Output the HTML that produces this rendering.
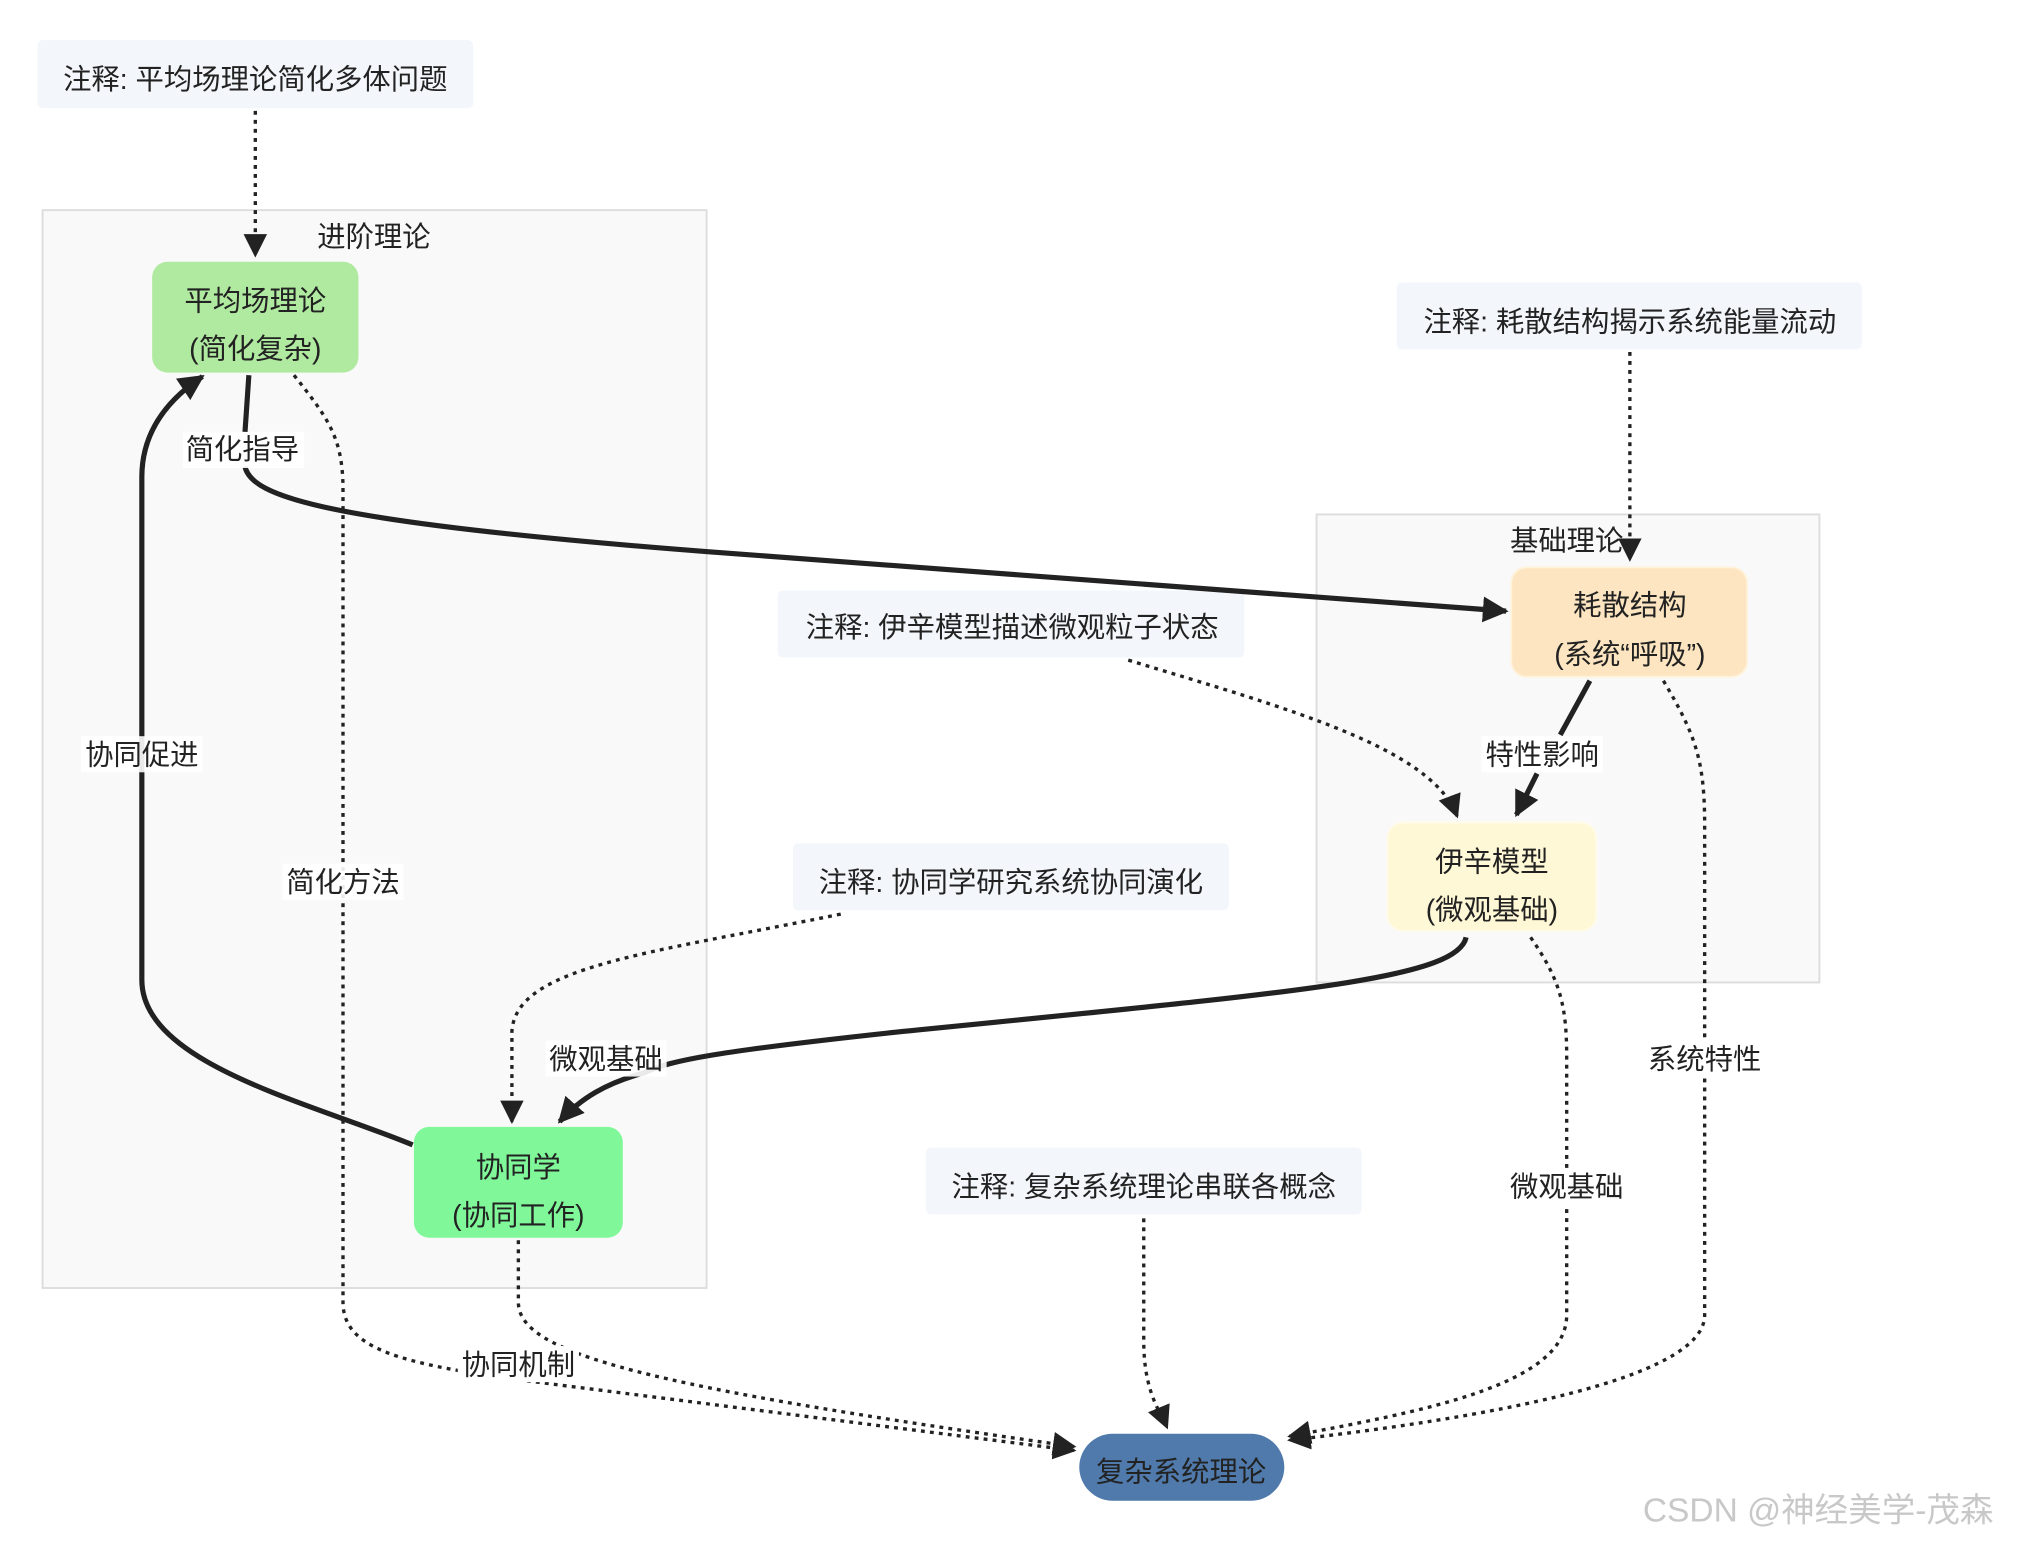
<!DOCTYPE html>
<html><head><meta charset="utf-8"><style>
html,body{margin:0;padding:0;background:#fff;}
svg{display:block;}
text{font-family:"Liberation Sans","Noto Sans CJK SC",sans-serif;fill:#222;}
</style></head><body>
<svg width="2018" height="1542" viewBox="0 0 1565 1196" preserveAspectRatio="none" xmlns="http://www.w3.org/2000/svg">
<defs>
<marker id="a" viewBox="0 0 10 10" refX="9" refY="5" markerWidth="5" markerHeight="5" orient="auto" markerUnits="strokeWidth"><path d="M0,0 L10,5 L0,10 z" fill="#222"/></marker>
<marker id="b" viewBox="0 0 10 10" refX="9" refY="5" markerWidth="7" markerHeight="7" orient="auto" markerUnits="strokeWidth"><path d="M0,0 L10,5 L0,10 z" fill="#222"/></marker>
</defs>
<!-- clusters -->
<rect x="33" y="163" width="515" height="836" fill="#f9f9f9" stroke="#ddd" stroke-width="1.5"/>
<text x="290" y="191" font-size="22" text-anchor="middle">进阶理论</text>
<rect x="1021" y="399" width="390" height="363" fill="#f9f9f9" stroke="#ddd" stroke-width="1.5"/>
<text x="1215" y="427" font-size="22" text-anchor="middle">基础理论</text>

<!-- notes -->
<g font-size="22" text-anchor="middle">
<rect x="29" y="31" width="338" height="53" rx="4" fill="#f3f7fb"/>
<text x="198" y="69">注释: 平均场理论简化多体问题</text>
<rect x="1083" y="219" width="361" height="52" rx="4" fill="#f3f7fb"/>
<text x="1264" y="257">注释: 耗散结构揭示系统能量流动</text>
<rect x="603" y="458" width="362" height="52" rx="4" fill="#f3f7fb"/>
<text x="785" y="494">注释: 伊辛模型描述微观粒子状态</text>
<rect x="615" y="654" width="338" height="52" rx="4" fill="#f3f7fb"/>
<text x="784" y="692">注释: 协同学研究系统协同演化</text>
<rect x="718" y="890" width="338" height="52" rx="4" fill="#f3f7fb"/>
<text x="887" y="928">注释: 复杂系统理论串联各概念</text>
</g>

<!-- edges -->
<g fill="none" stroke="#222">
<g stroke-width="4" marker-end="url(#a)">
<path d="M193,291 L190,335 M190,362 C195,385 250,405 550,428 L1168,474"/>
<path d="M1233,528 L1210,570 M1192,600 L1176,632"/>
<path d="M1137,727 C1130,760 1000,770 700,800 C560,815 520,822 500,832 C470,840 450,852 434,870"/>
<path d="M320,888 C240,855 110,825 110,760 L110,370 C110,335 130,310 157,292"/>
</g>
<g stroke-width="2.6" stroke-dasharray="3,4" marker-end="url(#b)">
<path d="M198,86 L198,198"/>
<path d="M1264,273 L1264,434"/>
<path d="M228,291 C255,325 266,340 266,380 L266,1010 C266,1050 320,1060 440,1075 L833,1125"/>
<path d="M402,962 L402,1010 C402,1050 500,1075 833,1122"/>
<path d="M1187,727 C1210,760 1215,780 1215,820 L1215,1020 C1215,1075 1100,1095 1000,1114"/>
<path d="M1290,528 C1315,570 1322,590 1322,640 L1322,1020 C1322,1070 1150,1100 1000,1117"/>
<path d="M875,512 C1000,550 1110,580 1130,633"/>
<path d="M652,709 C500,740 400,750 397,800 L397,870"/>
<path d="M887,945 L887,1040 C887,1080 900,1095 905,1107"/>
</g>
</g>

<!-- edge labels -->
<g font-size="22" text-anchor="middle">
<rect x="142" y="335" width="94" height="28" fill="#fff" opacity="0.9"/><text x="188" y="356">简化指导</text>
<rect x="1149" y="571" width="94" height="28" fill="#fff"/><text x="1196" y="593">特性影响</text>
<rect x="423" y="807" width="94" height="28" fill="#fff" opacity="0.9"/><text x="470" y="829">微观基础</text>
<rect x="63" y="571" width="94" height="28" fill="#fff" opacity="0.9"/><text x="110" y="593">协同促进</text>
<rect x="219" y="670" width="94" height="28" fill="#fff" opacity="0.9"/><text x="266" y="692">简化方法</text>
<rect x="355" y="1044" width="94" height="28" fill="#fff"/><text x="402" y="1066">协同机制</text>
<rect x="1168" y="906" width="94" height="28" fill="#fff"/><text x="1215" y="928">微观基础</text>
<rect x="1275" y="807" width="94" height="28" fill="#fff"/><text x="1322" y="829">系统特性</text>
</g>

<!-- nodes -->
<g font-size="22" text-anchor="middle">
<rect x="118" y="203" width="160" height="86" rx="12" fill="#b0eaa0"/>
<text x="198" y="241">平均场理论</text><text x="198" y="278">(简化复杂)</text>
<rect x="1172" y="440" width="183" height="85" rx="12" fill="#fce5c0" stroke="#fff3dd" stroke-width="1.5"/>
<text x="1264" y="477">耗散结构</text><text x="1264" y="515">(系统“呼吸”)</text>
<rect x="1076" y="638" width="162" height="84" rx="12" fill="#fff8d6" stroke="#fffbe8" stroke-width="1.5"/>
<text x="1157" y="676">伊辛模型</text><text x="1157" y="713">(微观基础)</text>
<rect x="321" y="874" width="162" height="86" rx="12" fill="#80f89a"/>
<text x="402" y="913">协同学</text><text x="402" y="950">(协同工作)</text>
<rect x="837" y="1112" width="159" height="52" rx="26" fill="#4f7aab"/>
<text x="916" y="1149">复杂系统理论</text>
</g>
<text x="1410" y="1180" font-size="26" text-anchor="middle" fill="#c8c8c8" style="fill:#c8c8c8">CSDN @神经美学-茂森</text>
</svg>
</body></html>
